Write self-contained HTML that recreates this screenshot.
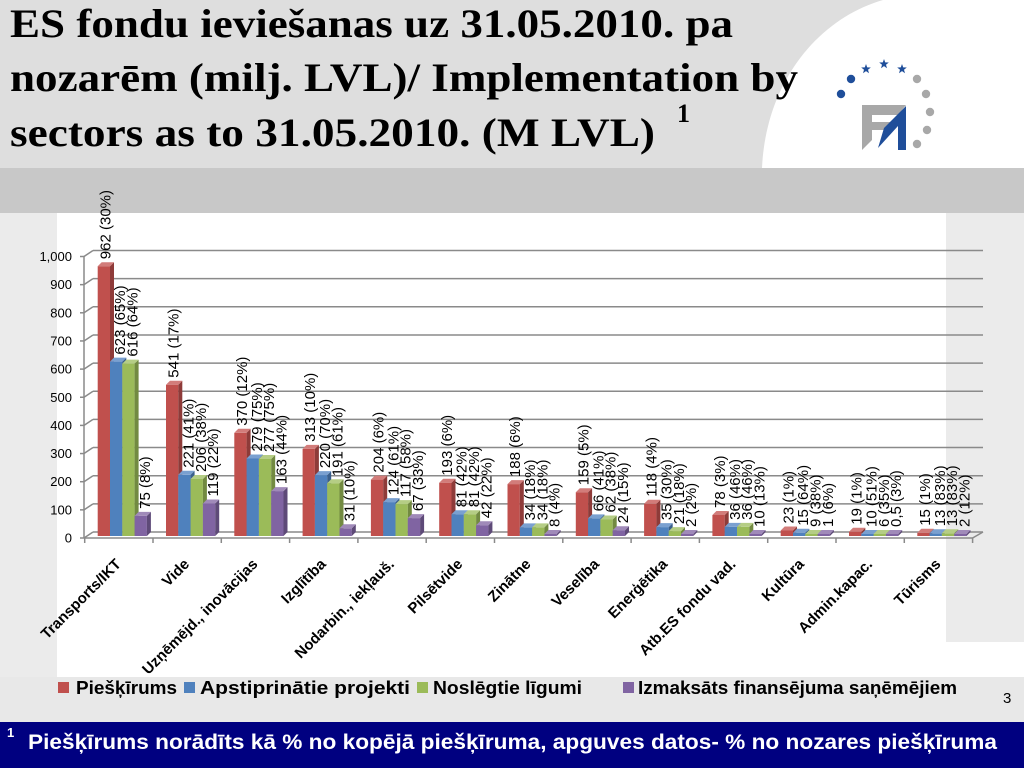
<!DOCTYPE html>
<html><head><meta charset="utf-8"><style>
html,body{margin:0;padding:0;background:#fff}
svg{display:block}
.tt{font-family:"Liberation Serif",serif;font-weight:bold;font-size:40px;fill:#000}
.dl{font-family:"Liberation Sans",sans-serif;font-size:15px;fill:#000}
.ax{font-family:"Liberation Sans",sans-serif;font-size:13px;fill:#000;text-anchor:end}
.cl{font-family:"Liberation Sans",sans-serif;font-size:15px;font-weight:bold;fill:#000;text-anchor:end}
.lg{font-family:"Liberation Sans",sans-serif;font-size:18px;font-weight:bold;fill:#000}
.grid line{stroke:#8a8a8a;stroke-width:1.5}
.R .f{fill:#c0504d}.R .s{fill:#8e3b39}.R .t{fill:#d27c7a}
.B .f{fill:#4f81bd}.B .s{fill:#3a5f8c}.B .t{fill:#7aa0d0}
.G .f{fill:#9bbb59}.G .s{fill:#728a41}.G .t{fill:#b5cd85}
.P .f{fill:#8064a2}.P .s{fill:#5e4a78}.P .t{fill:#a08ab9}
</style></head><body>
<svg width="1024" height="768" viewBox="0 0 1024 768" xmlns="http://www.w3.org/2000/svg">
<!-- backgrounds -->
<rect x="0" y="0" width="1024" height="168" fill="#dedede"/>
<path d="M883,0 C820,18 766,80 762,168 L1024,168 L1024,0 Z" fill="#fff"/>
<rect x="0" y="168" width="1024" height="45" fill="#c8c8c8"/>
<rect x="0" y="213" width="1024" height="464" fill="#fff"/>
<rect x="0" y="213" width="57" height="464" fill="#ebebeb"/>
<rect x="946" y="213" width="78" height="429" fill="#ebebeb"/>
<rect x="0" y="677" width="1024" height="45" fill="#e8e8e8"/>
<rect x="0" y="722" width="1024" height="46" fill="#000080"/>

<!-- title -->
<text class="tt" x="10" y="37" textLength="723" lengthAdjust="spacingAndGlyphs">ES fondu ieviešanas uz 31.05.2010. pa</text>
<text class="tt" x="10" y="91" textLength="788" lengthAdjust="spacingAndGlyphs">nozarēm (milj. LVL)/ Implementation by</text>
<text class="tt" x="10" y="146" textLength="645" lengthAdjust="spacingAndGlyphs">sectors as to 31.05.2010. (M LVL)</text>
<text x="677" y="122" style="font-family:'Liberation Serif',serif;font-weight:bold;font-size:26px">1</text>

<!-- logo -->
<g>
<circle cx="841" cy="94" r="4.2" fill="#1f4e9a"/>
<circle cx="851" cy="79" r="4.2" fill="#1f4e9a"/>
<polygon points="866,64 867.2,67.4 870.8,67.5 868,69.7 869,73.2 866,71.1 863,73.2 864,69.7 861.2,67.5 864.8,67.4" fill="#1f4e9a"/>
<polygon points="884,59 885.2,62.4 888.8,62.5 886,64.7 887,68.2 884,66.1 881,68.2 882,64.7 879.2,62.5 882.8,62.4" fill="#1f4e9a"/>
<polygon points="902,64 903.2,67.4 906.8,67.5 904,69.7 905,73.2 902,71.1 899,73.2 900,69.7 897.2,67.5 900.8,67.4" fill="#1f4e9a"/>
<circle cx="917" cy="79" r="4.2" fill="#a8a8a8"/>
<circle cx="926" cy="94" r="4.2" fill="#a8a8a8"/>
<circle cx="930" cy="112" r="4.2" fill="#a8a8a8"/>
<circle cx="927" cy="130" r="4.2" fill="#a8a8a8"/>
<circle cx="917" cy="144" r="4.2" fill="#a8a8a8"/>
<polygon points="862,105 906,105 898,115 872,115 872,122 892,122 885,130 872,130 872,140 862,150" fill="#a8a8a8"/>
<polygon points="862,150 906,106 906,150 898,150 898,126 878,148 884,128" fill="#1f4e9a"/>
</g>

<!-- axes & grid -->
<g class="grid">
<line x1="93" y1="532" x2="983" y2="532"/>
<line x1="93" y1="503.85" x2="983" y2="503.85"/>
<line x1="93" y1="475.7" x2="983" y2="475.7"/>
<line x1="93" y1="447.55" x2="983" y2="447.55"/>
<line x1="93" y1="419.4" x2="983" y2="419.4"/>
<line x1="93" y1="391.25" x2="983" y2="391.25"/>
<line x1="93" y1="363.1" x2="983" y2="363.1"/>
<line x1="93" y1="334.95" x2="983" y2="334.95"/>
<line x1="93" y1="306.8" x2="983" y2="306.8"/>
<line x1="93" y1="278.65" x2="983" y2="278.65"/>
<line x1="93" y1="250.5" x2="983" y2="250.5"/>
<line x1="80" y1="538" x2="84" y2="538"/><line x1="84" y1="538" x2="93" y2="532"/>
<line x1="80" y1="509.85" x2="84" y2="509.85"/><line x1="84" y1="509.85" x2="93" y2="503.85"/>
<line x1="80" y1="481.7" x2="84" y2="481.7"/><line x1="84" y1="481.7" x2="93" y2="475.7"/>
<line x1="80" y1="453.55" x2="84" y2="453.55"/><line x1="84" y1="453.55" x2="93" y2="447.55"/>
<line x1="80" y1="425.4" x2="84" y2="425.4"/><line x1="84" y1="425.4" x2="93" y2="419.4"/>
<line x1="80" y1="397.25" x2="84" y2="397.25"/><line x1="84" y1="397.25" x2="93" y2="391.25"/>
<line x1="80" y1="369.1" x2="84" y2="369.1"/><line x1="84" y1="369.1" x2="93" y2="363.1"/>
<line x1="80" y1="340.95" x2="84" y2="340.95"/><line x1="84" y1="340.95" x2="93" y2="334.95"/>
<line x1="80" y1="312.8" x2="84" y2="312.8"/><line x1="84" y1="312.8" x2="93" y2="306.8"/>
<line x1="80" y1="284.65" x2="84" y2="284.65"/><line x1="84" y1="284.65" x2="93" y2="278.65"/>
<line x1="80" y1="256.5" x2="84" y2="256.5"/><line x1="84" y1="256.5" x2="93" y2="250.5"/>
<line x1="84" y1="256.5" x2="84" y2="538"/>
<line x1="84" y1="538" x2="972.6" y2="538"/>
<line x1="972.6" y1="538" x2="983" y2="532"/>
<line x1="84.7" y1="538" x2="84.7" y2="543"/>
<line x1="153" y1="538" x2="153" y2="543"/>
<line x1="221.3" y1="538" x2="221.3" y2="543"/>
<line x1="289.6" y1="538" x2="289.6" y2="543"/>
<line x1="357.9" y1="538" x2="357.9" y2="543"/>
<line x1="426.2" y1="538" x2="426.2" y2="543"/>
<line x1="494.5" y1="538" x2="494.5" y2="543"/>
<line x1="562.8" y1="538" x2="562.8" y2="543"/>
<line x1="631.1" y1="538" x2="631.1" y2="543"/>
<line x1="699.4" y1="538" x2="699.4" y2="543"/>
<line x1="767.7" y1="538" x2="767.7" y2="543"/>
<line x1="836" y1="538" x2="836" y2="543"/>
<line x1="904.3" y1="538" x2="904.3" y2="543"/>
<line x1="972.6" y1="538" x2="972.6" y2="543"/>
</g>

<!-- y-axis labels -->
<text class="ax" x="72" y="542.5">0</text>
<text class="ax" x="72" y="514.4">100</text>
<text class="ax" x="72" y="486.2">200</text>
<text class="ax" x="72" y="458.1">300</text>
<text class="ax" x="72" y="429.9">400</text>
<text class="ax" x="72" y="401.8">500</text>
<text class="ax" x="72" y="373.6">600</text>
<text class="ax" x="72" y="345.5">700</text>
<text class="ax" x="72" y="317.3">800</text>
<text class="ax" x="72" y="289.2">900</text>
<text class="ax" x="72" y="261">1,000</text>

<!-- bars: red -->
<g class="R">
<g transform="translate(97.7,266.2)"><rect class="f" width="12.3" height="269.8"/><path class="s" d="M12.3,0l4,-4v269.8l-4,4z"/><path class="t" d="M0,0l4,-4h12.3l-4,4z"/></g>
<g transform="translate(166,384.7)"><rect class="f" width="12.3" height="151.3"/><path class="s" d="M12.3,0l4,-4v151.3l-4,4z"/><path class="t" d="M0,0l4,-4h12.3l-4,4z"/></g>
<g transform="translate(234.3,432.8)"><rect class="f" width="12.3" height="103.2"/><path class="s" d="M12.3,0l4,-4v103.2l-4,4z"/><path class="t" d="M0,0l4,-4h12.3l-4,4z"/></g>
<g transform="translate(302.6,448.9)"><rect class="f" width="12.3" height="87.1"/><path class="s" d="M12.3,0l4,-4v87.1l-4,4z"/><path class="t" d="M0,0l4,-4h12.3l-4,4z"/></g>
<g transform="translate(370.9,479.6)"><rect class="f" width="12.3" height="56.4"/><path class="s" d="M12.3,0l4,-4v56.4l-4,4z"/><path class="t" d="M0,0l4,-4h12.3l-4,4z"/></g>
<g transform="translate(439.2,482.7)"><rect class="f" width="12.3" height="53.3"/><path class="s" d="M12.3,0l4,-4v53.3l-4,4z"/><path class="t" d="M0,0l4,-4h12.3l-4,4z"/></g>
<g transform="translate(507.5,484.1)"><rect class="f" width="12.3" height="51.9"/><path class="s" d="M12.3,0l4,-4v51.9l-4,4z"/><path class="t" d="M0,0l4,-4h12.3l-4,4z"/></g>
<g transform="translate(575.8,492.2)"><rect class="f" width="12.3" height="43.8"/><path class="s" d="M12.3,0l4,-4v43.8l-4,4z"/><path class="t" d="M0,0l4,-4h12.3l-4,4z"/></g>
<g transform="translate(644.1,503.8)"><rect class="f" width="12.3" height="32.2"/><path class="s" d="M12.3,0l4,-4v32.2l-4,4z"/><path class="t" d="M0,0l4,-4h12.3l-4,4z"/></g>
<g transform="translate(712.4,515)"><rect class="f" width="12.3" height="21"/><path class="s" d="M12.3,0l4,-4v21l-4,4z"/><path class="t" d="M0,0l4,-4h12.3l-4,4z"/></g>
<g transform="translate(780.7,530.5)"><rect class="f" width="12.3" height="5.5"/><path class="s" d="M12.3,0l4,-4v5.5l-4,4z"/><path class="t" d="M0,0l4,-4h12.3l-4,4z"/></g>
<g transform="translate(849,531.7)"><rect class="f" width="12.3" height="4.3"/><path class="s" d="M12.3,0l4,-4v4.3l-4,4z"/><path class="t" d="M0,0l4,-4h12.3l-4,4z"/></g>
<g transform="translate(917.3,532.8)"><rect class="f" width="12.3" height="3.2"/><path class="s" d="M12.3,0l4,-4v3.2l-4,4z"/><path class="t" d="M0,0l4,-4h12.3l-4,4z"/></g>
</g>
<!-- blue -->
<g class="B">
<g transform="translate(110,361.6)"><rect class="f" width="12.3" height="174.4"/><path class="s" d="M12.3,0l4,-4v174.4l-4,4z"/><path class="t" d="M0,0l4,-4h12.3l-4,4z"/></g>
<g transform="translate(178.3,474.8)"><rect class="f" width="12.3" height="61.2"/><path class="s" d="M12.3,0l4,-4v61.2l-4,4z"/><path class="t" d="M0,0l4,-4h12.3l-4,4z"/></g>
<g transform="translate(246.6,458.5)"><rect class="f" width="12.3" height="77.5"/><path class="s" d="M12.3,0l4,-4v77.5l-4,4z"/><path class="t" d="M0,0l4,-4h12.3l-4,4z"/></g>
<g transform="translate(314.9,475.1)"><rect class="f" width="12.3" height="60.9"/><path class="s" d="M12.3,0l4,-4v60.9l-4,4z"/><path class="t" d="M0,0l4,-4h12.3l-4,4z"/></g>
<g transform="translate(383.2,502.1)"><rect class="f" width="12.3" height="33.9"/><path class="s" d="M12.3,0l4,-4v33.9l-4,4z"/><path class="t" d="M0,0l4,-4h12.3l-4,4z"/></g>
<g transform="translate(451.5,514.2)"><rect class="f" width="12.3" height="21.8"/><path class="s" d="M12.3,0l4,-4v21.8l-4,4z"/><path class="t" d="M0,0l4,-4h12.3l-4,4z"/></g>
<g transform="translate(519.8,527.4)"><rect class="f" width="12.3" height="8.6"/><path class="s" d="M12.3,0l4,-4v8.6l-4,4z"/><path class="t" d="M0,0l4,-4h12.3l-4,4z"/></g>
<g transform="translate(588.1,518.4)"><rect class="f" width="12.3" height="17.6"/><path class="s" d="M12.3,0l4,-4v17.6l-4,4z"/><path class="t" d="M0,0l4,-4h12.3l-4,4z"/></g>
<g transform="translate(656.4,527.1)"><rect class="f" width="12.3" height="8.9"/><path class="s" d="M12.3,0l4,-4v8.9l-4,4z"/><path class="t" d="M0,0l4,-4h12.3l-4,4z"/></g>
<g transform="translate(724.7,526.9)"><rect class="f" width="12.3" height="9.1"/><path class="s" d="M12.3,0l4,-4v9.1l-4,4z"/><path class="t" d="M0,0l4,-4h12.3l-4,4z"/></g>
<g transform="translate(793,532.8)"><rect class="f" width="12.3" height="3.2"/><path class="s" d="M12.3,0l4,-4v3.2l-4,4z"/><path class="t" d="M0,0l4,-4h12.3l-4,4z"/></g>
<g transform="translate(861.3,534)"><rect class="f" width="12.3" height="2"/><path class="s" d="M12.3,0l4,-4v2l-4,4z"/><path class="t" d="M0,0l4,-4h12.3l-4,4z"/></g>
<g transform="translate(929.6,533.3)"><rect class="f" width="12.3" height="2.7"/><path class="s" d="M12.3,0l4,-4v2.7l-4,4z"/><path class="t" d="M0,0l4,-4h12.3l-4,4z"/></g>
</g>
<!-- green -->
<g class="G">
<g transform="translate(122.3,363.6)"><rect class="f" width="12.3" height="172.4"/><path class="s" d="M12.3,0l4,-4v172.4l-4,4z"/><path class="t" d="M0,0l4,-4h12.3l-4,4z"/></g>
<g transform="translate(190.6,479)"><rect class="f" width="12.3" height="57"/><path class="s" d="M12.3,0l4,-4v57l-4,4z"/><path class="t" d="M0,0l4,-4h12.3l-4,4z"/></g>
<g transform="translate(258.9,459)"><rect class="f" width="12.3" height="77"/><path class="s" d="M12.3,0l4,-4v77l-4,4z"/><path class="t" d="M0,0l4,-4h12.3l-4,4z"/></g>
<g transform="translate(327.2,483.2)"><rect class="f" width="12.3" height="52.8"/><path class="s" d="M12.3,0l4,-4v52.8l-4,4z"/><path class="t" d="M0,0l4,-4h12.3l-4,4z"/></g>
<g transform="translate(395.5,504.1)"><rect class="f" width="12.3" height="31.9"/><path class="s" d="M12.3,0l4,-4v31.9l-4,4z"/><path class="t" d="M0,0l4,-4h12.3l-4,4z"/></g>
<g transform="translate(463.8,514.2)"><rect class="f" width="12.3" height="21.8"/><path class="s" d="M12.3,0l4,-4v21.8l-4,4z"/><path class="t" d="M0,0l4,-4h12.3l-4,4z"/></g>
<g transform="translate(532.1,527.4)"><rect class="f" width="12.3" height="8.6"/><path class="s" d="M12.3,0l4,-4v8.6l-4,4z"/><path class="t" d="M0,0l4,-4h12.3l-4,4z"/></g>
<g transform="translate(600.4,519.5)"><rect class="f" width="12.3" height="16.5"/><path class="s" d="M12.3,0l4,-4v16.5l-4,4z"/><path class="t" d="M0,0l4,-4h12.3l-4,4z"/></g>
<g transform="translate(668.7,531.1)"><rect class="f" width="12.3" height="4.9"/><path class="s" d="M12.3,0l4,-4v4.9l-4,4z"/><path class="t" d="M0,0l4,-4h12.3l-4,4z"/></g>
<g transform="translate(737,526.9)"><rect class="f" width="12.3" height="9.1"/><path class="s" d="M12.3,0l4,-4v9.1l-4,4z"/><path class="t" d="M0,0l4,-4h12.3l-4,4z"/></g>
<g transform="translate(805.3,534)"><rect class="f" width="12.3" height="2"/><path class="s" d="M12.3,0l4,-4v2l-4,4z"/><path class="t" d="M0,0l4,-4h12.3l-4,4z"/></g>
<g transform="translate(873.6,534)"><rect class="f" width="12.3" height="2"/><path class="s" d="M12.3,0l4,-4v2l-4,4z"/><path class="t" d="M0,0l4,-4h12.3l-4,4z"/></g>
<g transform="translate(941.9,533.3)"><rect class="f" width="12.3" height="2.7"/><path class="s" d="M12.3,0l4,-4v2.7l-4,4z"/><path class="t" d="M0,0l4,-4h12.3l-4,4z"/></g>
</g>
<!-- purple -->
<g class="P">
<g transform="translate(134.6,515.9)"><rect class="f" width="12.3" height="20.1"/><path class="s" d="M12.3,0l4,-4v20.1l-4,4z"/><path class="t" d="M0,0l4,-4h12.3l-4,4z"/></g>
<g transform="translate(202.9,503.5)"><rect class="f" width="12.3" height="32.5"/><path class="s" d="M12.3,0l4,-4v32.5l-4,4z"/><path class="t" d="M0,0l4,-4h12.3l-4,4z"/></g>
<g transform="translate(271.2,491.1)"><rect class="f" width="12.3" height="44.9"/><path class="s" d="M12.3,0l4,-4v44.9l-4,4z"/><path class="t" d="M0,0l4,-4h12.3l-4,4z"/></g>
<g transform="translate(339.5,528.3)"><rect class="f" width="12.3" height="7.7"/><path class="s" d="M12.3,0l4,-4v7.7l-4,4z"/><path class="t" d="M0,0l4,-4h12.3l-4,4z"/></g>
<g transform="translate(407.8,518.1)"><rect class="f" width="12.3" height="17.9"/><path class="s" d="M12.3,0l4,-4v17.9l-4,4z"/><path class="t" d="M0,0l4,-4h12.3l-4,4z"/></g>
<g transform="translate(476.1,525.2)"><rect class="f" width="12.3" height="10.8"/><path class="s" d="M12.3,0l4,-4v10.8l-4,4z"/><path class="t" d="M0,0l4,-4h12.3l-4,4z"/></g>
<g transform="translate(544.4,534)"><rect class="f" width="12.3" height="2"/><path class="s" d="M12.3,0l4,-4v2l-4,4z"/><path class="t" d="M0,0l4,-4h12.3l-4,4z"/></g>
<g transform="translate(612.7,530.2)"><rect class="f" width="12.3" height="5.8"/><path class="s" d="M12.3,0l4,-4v5.8l-4,4z"/><path class="t" d="M0,0l4,-4h12.3l-4,4z"/></g>
<g transform="translate(681,534)"><rect class="f" width="12.3" height="2"/><path class="s" d="M12.3,0l4,-4v2l-4,4z"/><path class="t" d="M0,0l4,-4h12.3l-4,4z"/></g>
<g transform="translate(749.3,534)"><rect class="f" width="12.3" height="2"/><path class="s" d="M12.3,0l4,-4v2l-4,4z"/><path class="t" d="M0,0l4,-4h12.3l-4,4z"/></g>
<g transform="translate(817.6,534)"><rect class="f" width="12.3" height="2"/><path class="s" d="M12.3,0l4,-4v2l-4,4z"/><path class="t" d="M0,0l4,-4h12.3l-4,4z"/></g>
<g transform="translate(885.9,534)"><rect class="f" width="12.3" height="2"/><path class="s" d="M12.3,0l4,-4v2l-4,4z"/><path class="t" d="M0,0l4,-4h12.3l-4,4z"/></g>
<g transform="translate(954.2,534)"><rect class="f" width="12.3" height="2"/><path class="s" d="M12.3,0l4,-4v2l-4,4z"/><path class="t" d="M0,0l4,-4h12.3l-4,4z"/></g>
</g>

<!-- data labels -->
<g class="dl">
<text transform="translate(110.3,259.2) rotate(-90)">962 (30%)</text>
<text transform="translate(125.2,354.6) rotate(-90)">623 (65%)</text>
<text transform="translate(137.5,356.6) rotate(-90)">616 (64%)</text>
<text transform="translate(149.8,508.9) rotate(-90)">75 (8%)</text>

<text transform="translate(178.6,377.7) rotate(-90)">541 (17%)</text>
<text transform="translate(193.5,467.8) rotate(-90)">221 (41%)</text>
<text transform="translate(205.8,472) rotate(-90)">206 (38%)</text>
<text transform="translate(218.1,496.5) rotate(-90)">119 (22%)</text>

<text transform="translate(246.9,425.8) rotate(-90)">370 (12%)</text>
<text transform="translate(261.8,451.5) rotate(-90)">279 (75%)</text>
<text transform="translate(274.1,452) rotate(-90)">277 (75%)</text>
<text transform="translate(286.4,484.1) rotate(-90)">163 (44%)</text>

<text transform="translate(315.2,441.9) rotate(-90)">313 (10%)</text>
<text transform="translate(330.1,468.1) rotate(-90)">220 (70%)</text>
<text transform="translate(342.4,476.2) rotate(-90)">191 (61%)</text>
<text transform="translate(354.7,521.3) rotate(-90)">31 (10%)</text>

<text transform="translate(383.5,472.6) rotate(-90)">204 (6%)</text>
<text transform="translate(398.4,495.1) rotate(-90)">124 (61%)</text>
<text transform="translate(410.7,497.1) rotate(-90)">117 (58%)</text>
<text transform="translate(423,511.1) rotate(-90)">67 (33%)</text>

<text transform="translate(451.8,475.7) rotate(-90)">193 (6%)</text>
<text transform="translate(466.7,507.2) rotate(-90)">81 (42%)</text>
<text transform="translate(479,507.2) rotate(-90)">81 (42%)</text>
<text transform="translate(491.3,518.2) rotate(-90)">42 (22%)</text>

<text transform="translate(520.1,477.1) rotate(-90)">188 (6%)</text>
<text transform="translate(535,520.4) rotate(-90)">34 (18%)</text>
<text transform="translate(547.3,520.4) rotate(-90)">34 (18%)</text>
<text transform="translate(559.6,527) rotate(-90)">8 (4%)</text>

<text transform="translate(588.4,485.2) rotate(-90)">159 (5%)</text>
<text transform="translate(603.3,511.4) rotate(-90)">66 (41%)</text>
<text transform="translate(615.6,512.5) rotate(-90)">62 (38%)</text>
<text transform="translate(627.9,523.2) rotate(-90)">24 (15%)</text>

<text transform="translate(656.7,496.8) rotate(-90)">118 (4%)</text>
<text transform="translate(671.6,520.1) rotate(-90)">35 (30%)</text>
<text transform="translate(683.9,524.1) rotate(-90)">21 (18%)</text>
<text transform="translate(696.2,527) rotate(-90)">2 (2%)</text>

<text transform="translate(725,508) rotate(-90)">78 (3%)</text>
<text transform="translate(739.9,519.9) rotate(-90)">36 (46%)</text>
<text transform="translate(752.2,519.9) rotate(-90)">36 (46%)</text>
<text transform="translate(764.5,527) rotate(-90)">10 (13%)</text>

<text transform="translate(793.3,523.5) rotate(-90)">23 (1%)</text>
<text transform="translate(808.2,525.8) rotate(-90)">15 (64%)</text>
<text transform="translate(820.5,527) rotate(-90)">9 (38%)</text>
<text transform="translate(832.8,527) rotate(-90)">1 (6%)</text>

<text transform="translate(861.6,524.7) rotate(-90)">19 (1%)</text>
<text transform="translate(876.5,527) rotate(-90)">10 (51%)</text>
<text transform="translate(888.8,527) rotate(-90)">6 (35%)</text>
<text transform="translate(901.1,527) rotate(-90)">0,5 (3%)</text>

<text transform="translate(929.9,525.8) rotate(-90)">15 (1%)</text>
<text transform="translate(944.8,526.3) rotate(-90)">13 (83%)</text>
<text transform="translate(957.1,526.3) rotate(-90)">13 (83%)</text>
<text transform="translate(969.4,527) rotate(-90)">2 (12%)</text>
</g>

<!-- category labels -->
<g class="cl">
<text transform="translate(121.9,565) rotate(-45)">Transports/IKT</text>
<text transform="translate(190.2,565) rotate(-45)">Vide</text>
<text transform="translate(258.5,565) rotate(-45)">Uzņēmējd., inovācijas</text>
<text transform="translate(326.8,565) rotate(-45)">Izglītība</text>
<text transform="translate(395.1,565) rotate(-45)">Nodarbin., iekļauš.</text>
<text transform="translate(463.4,565) rotate(-45)">Pilsētvide</text>
<text transform="translate(531.7,565) rotate(-45)">Zinātne</text>
<text transform="translate(600,565) rotate(-45)">Veselība</text>
<text transform="translate(668.3,565) rotate(-45)">Enerģētika</text>
<text transform="translate(736.6,565) rotate(-45)">Atb.ES fondu vad.</text>
<text transform="translate(804.9,565) rotate(-45)">Kultūra</text>
<text transform="translate(873.2,565) rotate(-45)">Admin.kapac.</text>
<text transform="translate(941.5,565) rotate(-45)">Tūrisms</text>
</g>

<!-- legend -->
<rect x="58" y="682" width="11" height="11" fill="#c0504d"/>
<text class="lg" x="76" y="694" textLength="101" lengthAdjust="spacingAndGlyphs">Piešķīrums</text>
<rect x="184" y="682" width="11" height="11" fill="#4f81bd"/>
<text class="lg" x="200" y="694" textLength="210" lengthAdjust="spacingAndGlyphs">Apstiprinātie projekti</text>
<rect x="417" y="682" width="11" height="11" fill="#9bbb59"/>
<text class="lg" x="433" y="694" textLength="149" lengthAdjust="spacingAndGlyphs">Noslēgtie līgumi</text>
<rect x="623" y="682" width="11" height="11" fill="#8064a2"/>
<text class="lg" x="638" y="694" textLength="319" lengthAdjust="spacingAndGlyphs">Izmaksāts finansējuma saņēmējiem</text>

<text x="1003" y="703" style="font-family:'Liberation Sans',sans-serif;font-size:15px;fill:#000">3</text>

<!-- footer -->
<text x="7" y="737" style="font-family:'Liberation Sans',sans-serif;font-size:13px;font-weight:bold;fill:#fff">1</text>
<text x="28" y="749" textLength="969" lengthAdjust="spacingAndGlyphs" style="font-family:'Liberation Sans',sans-serif;font-size:21px;font-weight:bold;fill:#fff">Piešķīrums norādīts kā % no kopējā piešķīruma, apguves datos- % no nozares piešķīruma</text>
</svg>
</body></html>
